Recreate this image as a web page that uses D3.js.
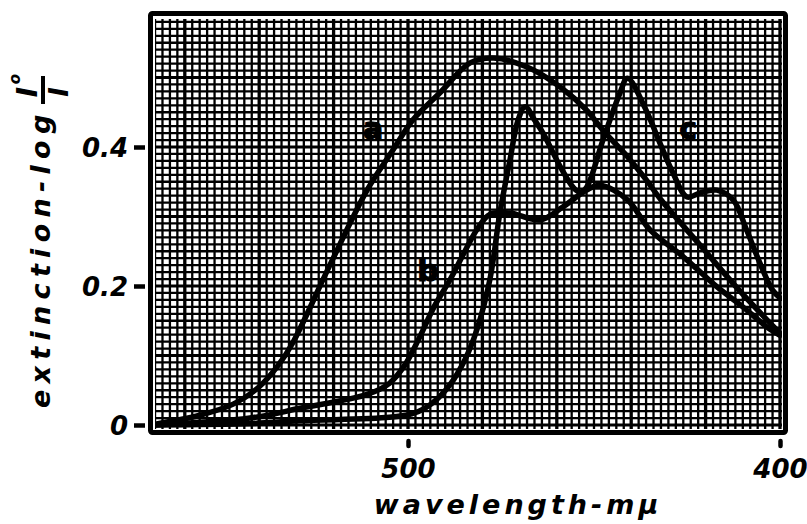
<!DOCTYPE html>
<html>
<head>
<meta charset="utf-8">
<script src="https://cdn.jsdelivr.net/npm/d3@7"></script>
<style>
  html, body { margin: 0; padding: 0; background: #fff; }
  svg { display: block; }
  text { font-family: "DejaVu Sans", sans-serif; font-weight: bold; font-style: italic; fill: #000; }
</style>
</head>
<body>
<svg id="chart" width="807" height="524"></svg>
<script>
// Axis ticks
const wavelengthTicks = [500, 400];
const extinctionTicks = [0, 0.2, 0.4];
const extinctionTickLabels = ["0", "0.2", "0.4"];

// Absorption spectra: [wavelength (mμ), extinction]
const curveA = [
  [568, 0.001], [556, 0.014], [547, 0.03], [540, 0.055], [535, 0.085], [531, 0.118], [521, 0.23],
  [511, 0.338], [504, 0.396], [498.7, 0.439], [491.4, 0.478], [483.3, 0.521], [477, 0.528],
  [468, 0.515], [459, 0.486], [452, 0.453], [447.6, 0.424], [441, 0.386], [436, 0.353],
  [432, 0.324], [421.5, 0.259], [411, 0.194], [400, 0.132]
];
const curveB = [
  [568, 0.0], [542.5, 0.01], [529, 0.024], [511, 0.044], [505, 0.06], [501, 0.085],
  [497, 0.125], [493, 0.17], [488.7, 0.209], [484.7, 0.25], [481.5, 0.281], [478, 0.303], [472.6, 0.305],
  [464.5, 0.295], [458.3, 0.314], [452, 0.338], [448.4, 0.345], [441, 0.324], [435, 0.281],
  [426, 0.242], [417, 0.199], [410, 0.17], [403.5, 0.141], [400, 0.129]
];
const curveC = [
  [568, 0.0], [542.5, 0.002], [529, 0.006], [505, 0.011], [499, 0.016], [495.5, 0.024], [492, 0.038],
  [488.7, 0.058], [484.7, 0.094], [481.5, 0.137], [478, 0.209], [475.3, 0.305], [472.6, 0.381],
  [470.4, 0.439], [468.5, 0.458], [466, 0.439], [463.7, 0.42], [459, 0.371], [455.6, 0.342],
  [453.8, 0.335], [452, 0.342], [447.6, 0.41], [443, 0.478], [441, 0.499], [436, 0.453],
  [432.3, 0.406], [428.8, 0.363], [425, 0.328], [421.5, 0.334], [417, 0.338], [412.6, 0.324],
  [409, 0.281], [405.4, 0.233], [402, 0.194], [400, 0.183]
];
const curveNames = ["a", "b", "c"];

const svg = d3.select("#chart");

// Wavelength runs right-to-left (long wavelengths on the left)
const x = d3.scaleLinear().domain([500, 400]).range([408, 780]);
const y = d3.scaleLinear().domain([0, 0.4]).range([425, 147]);

// Graph-paper area
const paper = { left: 155, right: 782, top: 19, bottom: 429 };

svg.append("defs").append("clipPath").attr("id", "paperClip")
  .append("rect")
  .attr("x", paper.left).attr("y", paper.top)
  .attr("width", paper.right - paper.left).attr("height", paper.bottom - paper.top);

const grid = svg.append("g").attr("clip-path", "url(#paperClip)");

// vertical rulings every 2 mμ, heavier every 20 mμ
const vLines = d3.range(400, 571, 2);
grid.selectAll("line.v").data(vLines).join("line")
  .attr("x1", d => x(d)).attr("x2", d => x(d))
  .attr("y1", paper.top).attr("y2", paper.bottom)
  .attr("stroke", "#000")
  .attr("stroke-width", d => d % 20 === 0 ? 3.3 : 2.3);

// horizontal rulings every 0.01, heavier every 0.1
const hLines = d3.range(-1, 60);
grid.selectAll("line.h").data(hLines).join("line")
  .attr("y1", d => y(d / 100)).attr("y2", d => y(d / 100))
  .attr("x1", paper.left).attr("x2", paper.right)
  .attr("stroke", "#000")
  .attr("stroke-width", d => d % 10 === 0 ? 3.2 : 2.3);

// Frame
svg.append("rect")
  .attr("x", 150.5).attr("y", 13.5)
  .attr("width", 635).attr("height", 419)
  .attr("rx", 2)
  .attr("fill", "none").attr("stroke", "#000").attr("stroke-width", 5);

// Spectra
const line = d3.line()
  .x(d => x(d[0])).y(d => y(d[1]))
  .curve(d3.curveCatmullRom.alpha(0.5));

const curves = svg.append("g").attr("clip-path", "url(#paperClip)");
[curveA, curveB, curveC].forEach(data => {
  curves.append("path")
    .datum(data)
    .attr("d", line)
    .attr("fill", "none")
    .attr("stroke", "#000")
    .attr("stroke-width", 5.5)
    .attr("stroke-linejoin", "round")
    .attr("stroke-linecap", "round");
});

// Curve letters
const letterAt = [[509.4, 0.427], [494.6, 0.223], [424.7, 0.427]];
svg.append("g").selectAll("text").data(curveNames).join("text")
  .attr("x", (d, i) => x(letterAt[i][0]))
  .attr("y", (d, i) => y(letterAt[i][1]))
  .attr("dy", "0.36em")
  .attr("text-anchor", "middle")
  .attr("font-size", 30)
  .style("font-style", "normal")
  .attr("stroke", "#000").attr("stroke-width", 1.2)
  .text(d => d);

// Y axis
const yAxis = d3.axisLeft(y)
  .tickValues(extinctionTicks)
  .tickSize(13)
  .tickPadding(6)
  .tickFormat((d, i) => extinctionTickLabels[i]);
const yg = svg.append("g").attr("transform", "translate(147,0)").call(yAxis);
yg.select(".domain").remove();
yg.selectAll(".tick line").attr("stroke", "#000").attr("stroke-width", 4.5).attr("x1", -2);
yg.selectAll(".tick text")
  .attr("font-family", null).attr("font-size", 26)
  .style("font-family", "'DejaVu Sans', sans-serif").style("font-weight", "bold").style("font-style", "italic")
  .attr("dy", "0.36em");

// X axis
const xAxis = d3.axisBottom(x)
  .tickValues(wavelengthTicks)
  .tickSize(9)
  .tickPadding(12)
  .tickFormat(d3.format("d"));
const xg = svg.append("g").attr("transform", "translate(0,439)").call(xAxis);
xg.select(".domain").remove();
xg.selectAll(".tick line").attr("stroke", "#000").attr("stroke-width", 4.5).attr("stroke-linecap", "round").attr("y1", 2).attr("y2", 7);
xg.selectAll(".tick text")
  .attr("font-family", null).attr("font-size", 26)
  .style("font-family", "'DejaVu Sans', sans-serif").style("font-weight", "bold").style("font-style", "italic");

// Axis titles
svg.append("text")
  .attr("x", 518).attr("y", 514)
  .attr("text-anchor", "middle")
  .attr("font-size", 27)
  .attr("letter-spacing", 4)
  .text("wavelength-mμ");

const yTitle = svg.append("g").attr("transform", "translate(50,408) rotate(-90)");
yTitle.append("text")
  .attr("x", 0).attr("y", 0)
  .attr("font-size", 27)
  .attr("letter-spacing", 6.3)
  .text("extinction-log");
// I₀ / I written as a stacked fraction
yTitle.append("text").attr("x", 316).attr("y", -13).attr("font-size", 28).attr("text-anchor", "middle").text("I");
yTitle.append("text").attr("x", 329).attr("y", -30).attr("font-size", 15).attr("text-anchor", "middle").text("o");
yTitle.append("line")
  .attr("x1", 304).attr("x2", 332).attr("y1", -7).attr("y2", -7)
  .attr("stroke", "#000").attr("stroke-width", 4);
yTitle.append("text").attr("x", 316).attr("y", 18).attr("font-size", 26).attr("text-anchor", "middle").text("I");
</script>
</body>
</html>
